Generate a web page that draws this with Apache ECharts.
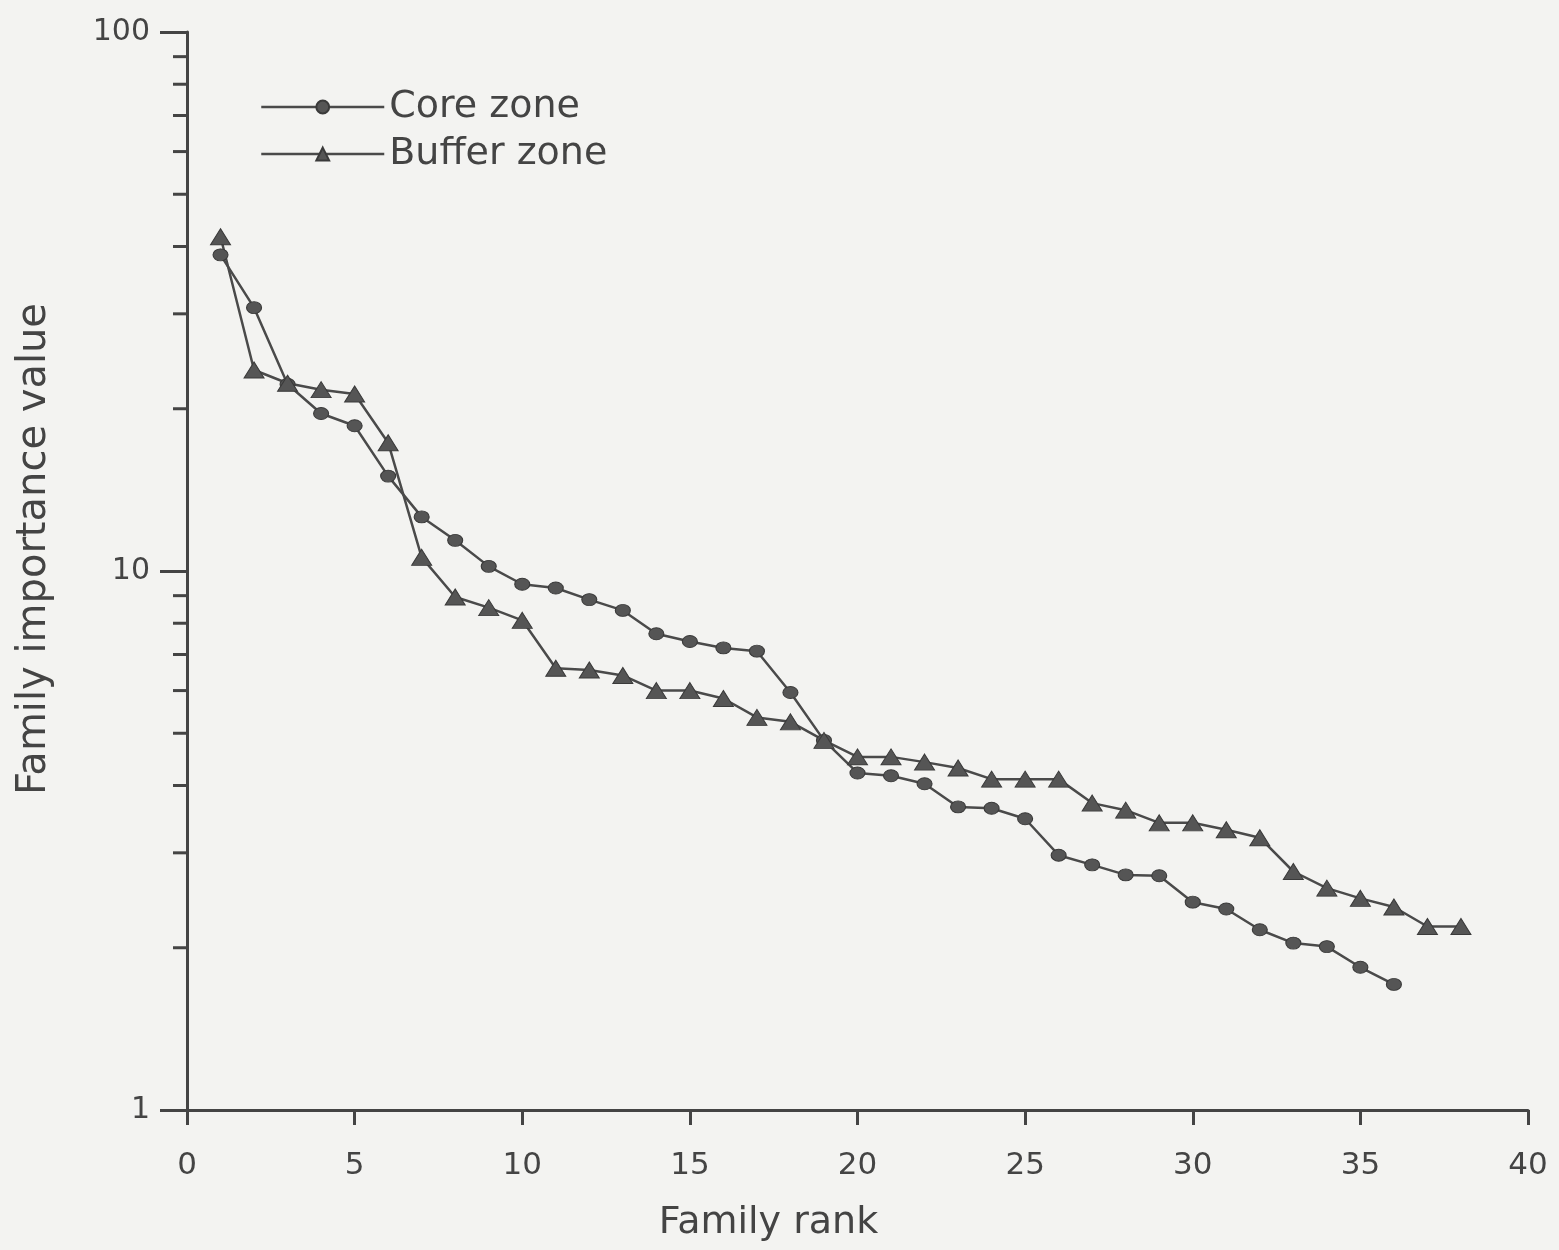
<!DOCTYPE html>
<html>
<head>
<meta charset="utf-8">
<script src="https://cdn.jsdelivr.net/npm/echarts@6/dist/echarts.min.js"></script>
<style>
  html, body { margin: 0; padding: 0; background: #f3f3f1; }
  #chart { width: 1559px; height: 1250px; }
</style>
</head>
<body>
<div id="chart"></div>
<script>
// values (log y axis)
var coreRank = [1,2,3,4,5,6,7,8,9,10,11,12,13,14,15,16,17,18,19,20,21,22,23,24,25,26,27,28,29,30,31,32,33,34,35,36];
var coreValue = [38.6,30.8,22.2,19.6,18.6,15.0,12.6,11.4,10.2,9.45,9.3,8.85,8.45,7.65,7.4,7.2,7.1,5.95,4.85,4.22,4.17,4.03,3.65,3.63,3.47,2.97,2.85,2.73,2.72,2.43,2.36,2.16,2.04,2.01,1.84,1.71];
var bufferRank = [1,2,3,4,5,6,7,8,9,10,11,12,13,14,15,16,17,18,19,20,21,22,23,24,25,26,27,28,29,30,31,32,33,34,35,36,37,38];
var bufferValue = [41.7,23.6,22.3,21.7,21.3,17.3,10.6,8.95,8.55,8.1,6.6,6.55,6.4,6.0,6.0,5.8,5.35,5.25,4.85,4.52,4.52,4.42,4.31,4.11,4.11,4.11,3.71,3.6,3.41,3.41,3.31,3.2,2.77,2.58,2.47,2.38,2.19,2.19];
var minorTicks = [2,3,4,5,6,7,8,9,20,30,40,50,60,70,80,90];

var ink = '#444';
var font = 'DejaVu Sans';

function pairs(xs, ys) {
    var out = [];
    for (var i = 0; i < xs.length; i++) {
        out.push([xs[i], ys[i]]);
    }
    return out;
}

var myChart = echarts.init(document.getElementById('chart'), null, { renderer: 'canvas' });

var option = {
    backgroundColor: '#f3f3f1',
    animation: false,
    grid: { left: 187, right: 31, top: 32, bottom: 140 },
    legend: {
        orient: 'vertical',
        left: 255,
        top: 83,
        itemWidth: 123,
        itemHeight: 16,
        itemGap: 9,
        data: ['Core zone', 'Buffer zone'],
        lineStyle: { width: 2.5 },
        textStyle: { color: ink, fontFamily: font, fontSize: 38 }
    },
    xAxis: {
        type: 'value',
        min: 0,
        max: 40,
        interval: 5,
        name: 'Family rank',
        nameLocation: 'middle',
        nameGap: 94,
        nameTextStyle: { color: ink, fontFamily: font, fontSize: 38, padding: [0, 178, 0, 0] },
        axisLine: { onZero: false, lineStyle: { color: ink, width: 3 } },
        axisTick: { length: 15, lineStyle: { color: ink, width: 3 } },
        axisLabel: { color: ink, fontFamily: font, fontSize: 31, margin: 40 },
        splitLine: { show: false }
    },
    yAxis: {
        type: 'log',
        logBase: 10,
        min: 1,
        max: 100,
        splitNumber: 2,
        name: 'Family importance value',
        nameLocation: 'middle',
        nameGap: 132,
        nameTextStyle: { color: ink, fontFamily: font, fontSize: 40, padding: [0, 0, 0, 44] },
        axisLine: { lineStyle: { color: ink, width: 3 } },
        axisTick: { length: 27, lineStyle: { color: ink, width: 3 } },
        axisLabel: { color: ink, fontFamily: font, fontSize: 30, margin: 37 },
        splitLine: { show: false }
    },
    series: [
        {
            name: 'Core zone',
            type: 'line',
            data: pairs(coreRank, coreValue),
            symbol: 'circle',
            symbolSize: [15, 12],
            lineStyle: { color: '#4a4a4a', width: 2.5 },
            itemStyle: { color: '#555', borderColor: '#3a3a3a', borderWidth: 1 }
        },
        {
            name: 'Buffer zone',
            type: 'line',
            data: pairs(bufferRank, bufferValue),
            symbol: 'triangle',
            symbolSize: [20, 16],
            lineStyle: { color: '#4a4a4a', width: 2.5 },
            itemStyle: { color: '#555', borderColor: '#3a3a3a', borderWidth: 1 }
        },
        {
            // minor ticks of the log axis at 2..9 of each decade
            name: 'minor',
            type: 'custom',
            silent: true,
            clip: false,
            data: minorTicks.map(function (v) { return [0, v]; }),
            encode: { x: 0, y: 1 },
            renderItem: function (params, api) {
                var p = api.coord([0, api.value(1)]);
                return {
                    type: 'line',
                    shape: { x1: p[0] - 14, y1: p[1], x2: p[0], y2: p[1] },
                    style: { stroke: ink, lineWidth: 3 }
                };
            }
        }
    ]
};

myChart.setOption(option);
</script>
</body>
</html>
